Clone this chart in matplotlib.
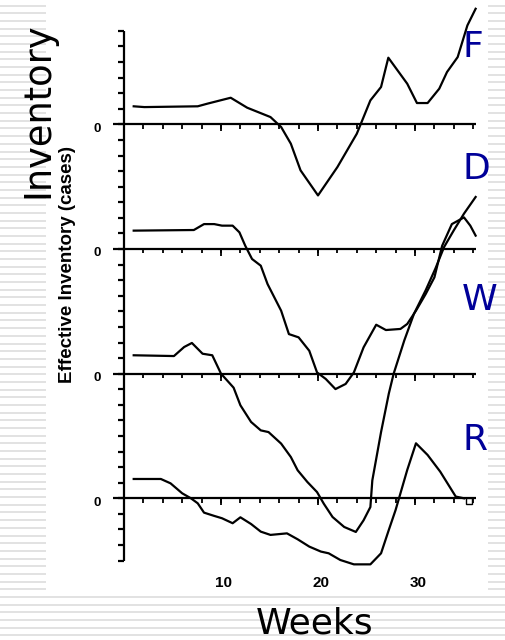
import numpy as np
import matplotlib
matplotlib.use("Agg")
import matplotlib.pyplot as plt

# effective inventory per echelon (tick units, relative to own zero line)
factory_weeks = [1.0, 2.1, 7.6, 8.6, 11.0, 12.7, 15.1, 16.2, 17.2, 18.2, 20.0, 22.0,
                 24.0, 25.4, 26.5, 27.25, 29.2, 30.2, 31.3, 32.5, 33.3, 34.4, 35.4, 36.25]
factory_inv = [1.16, 1.11, 1.16, 1.33, 1.71, 1.07, 0.47, -0.17, -1.24, -2.95, -4.56, -2.74,
               -0.6, 1.54, 2.4, 4.28, 2.61, 1.37, 1.37, 2.29, 3.36, 4.32, 6.35, 7.42]

distrib_weeks = [1.0, 7.2, 8.25, 9.3, 10.1, 11.2, 11.9, 12.5, 13.2, 14.1, 14.8, 16.2, 17.0,
                 18.0, 19.1, 19.9, 20.8, 21.8, 22.85, 23.7, 24.7, 26.0, 27.0, 28.5, 29.2,
                 30.1, 31.1, 32.0, 32.8, 33.8, 35.05, 35.7, 36.25]
distrib_inv = [1.18, 1.22, 1.6, 1.6, 1.5, 1.5, 1.07, 0.21, -0.64, -1.07, -2.25, -3.96, -5.46,
               -5.67, -6.53, -7.92, -8.34, -8.99, -8.66, -7.92, -6.31, -4.86, -5.2, -5.13, -4.81,
               -3.96, -2.89, -1.82, 0.21, 1.6, 2.03, 1.5, 0.86]

wholesale_weeks = [1.0, 5.15, 6.2, 7.0, 8.1, 9.1, 10.0, 11.3, 12.0, 13.1, 14.1, 14.9, 16.2,
                   17.2, 17.9, 18.9, 19.9, 20.6, 21.5, 22.7, 23.9, 24.7, 25.4, 25.6, 26.5,
                   27.3, 27.8, 28.9, 29.9, 31.1, 32.1, 33.0, 34.0, 35.05, 36.25]
wholesale_inv = [1.18, 1.13, 1.71, 1.97, 1.28, 1.18, 0.0, -0.9, -2.03, -3.1, -3.64, -3.75,
                 -4.49, -5.35, -6.2, -6.95, -7.6, -8.35, -9.2, -9.84, -10.16, -9.41, -8.56,
                 -6.85, -3.75, -1.28, 0.0, 2.14, 3.85, 5.35, 6.74, 8.13, 9.2, 10.27, 11.34]

retail_weeks = [1.0, 3.8, 4.8, 6.0, 6.9, 7.6, 8.25, 9.3, 10.1, 11.2, 12.0, 13.1, 14.1, 15.1,
                16.8, 17.9, 19.1, 20.3, 21.1, 22.3, 23.7, 25.4, 26.5, 27.3, 28.0, 28.5, 29.2,
                30.1, 31.3, 32.6, 34.2, 35.05]
retail_inv = [1.24, 1.24, 0.96, 0.32, 0.0, -0.32, -0.92, -1.13, -1.28, -1.6, -1.22, -1.65,
              -2.14, -2.35, -2.25, -2.63, -3.1, -3.42, -3.53, -3.96, -4.24, -4.24, -3.53,
              -2.03, -0.75, 0.32, 1.82, 3.53, 2.78, 1.71, 0.11, 0.0]

labels = ["F", "D", "W", "R"]
offsets = [24, 16, 8, 0]
week_ticks = list(range(2, 37, 2))
major_weeks = [10, 20, 30]

W, H = 505, 640
fig = plt.figure(figsize=(W / 100, H / 100), dpi=100)

# slide background with grey stripes
bg = fig.add_axes([0, 0, 1, 1])
bg.set_xlim(0, W)
bg.set_ylim(H, 0)
bg.axis("off")
for y in 5.6 + 7.68 * np.arange(84):
    if y < 595:
        bg.hlines(y, 0, 46, color="#dadada", lw=1.1)
        bg.hlines(y, 488, W, color="#dadada", lw=1.1)
    else:
        bg.hlines(y, 0, W, color="#dadada", lw=1.1)

bg.text(38, 110, "Inventory", rotation=90, fontsize=26.5, family="DejaVu Sans",
        ha="center", va="center")
bg.text(315, 634, "Weeks", fontsize=26, family="DejaVu Sans", ha="center", va="baseline")
for lab, yc in zip(labels, [47, 169, 300, 440]):
    bg.text(462, yc, lab, fontsize=26, family="DejaVu Sans", color="#000099",
            ha="left", va="center")

# the scanned chart
ax = fig.add_axes([0, 0, 1, 1])
ax.patch.set_alpha(0)
ax.set_xlim(-124 / 9.7, (W - 124) / 9.7)
ax.set_ylim((498.3 - H) / 15.58, 498.3 / 15.58)
ax.axis("off")

lw = 1.6
ax.vlines(0, -4, 30, color="black", lw=lw)
ax.hlines(np.arange(-4, 31), -0.62, 0, color="black", lw=lw)
for off in offsets:
    ax.hlines(off, -1.15, 36.3, color="black", lw=lw)
    ax.vlines(week_ticks, off - 0.27, off, color="black", lw=1.3)
    ax.vlines(major_weeks, off - 0.45, off, color="black", lw=1.3)
    ax.text(-2.8, off - 0.27, "0", fontsize=9.5, fontweight="bold", family="Liberation Sans",
            ha="center", va="center")
for wk in major_weeks:
    ax.text(wk + 0.3, -5.44, str(wk), fontsize=11, fontweight="bold",
            family="Liberation Sans", ha="center", va="center")

series = [(factory_weeks, factory_inv), (distrib_weeks, distrib_inv),
          (wholesale_weeks, wholesale_inv), (retail_weeks, retail_inv)]
for (wk, inv), off in zip(series, offsets):
    ax.plot(wk, np.array(inv) + off, color="black", lw=lw, solid_joinstyle="round")

ax.plot([35.6], [-0.2], marker="s", ms=5, mfc="white", mec="black", mew=1.0)

ax.text(-5.8, 15.0, "Effective Inventory (cases)", rotation=90, fontsize=13.5,
        fontweight="bold", family="Liberation Sans", ha="center", va="center")

fig.savefig("out.png", dpi=100)
